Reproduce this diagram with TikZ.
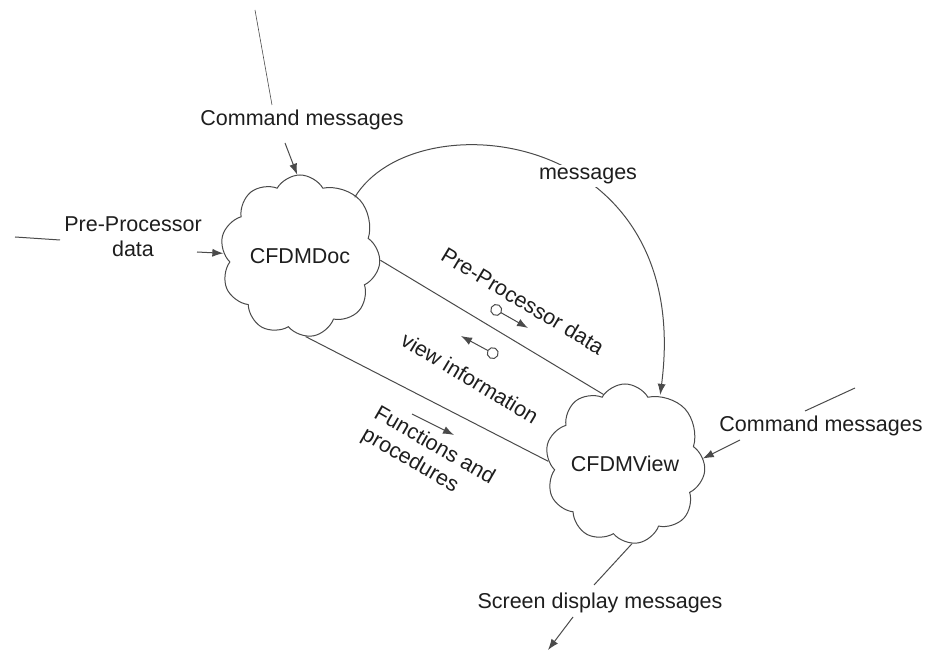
\documentclass[tikz,border=0pt]{standalone}
\usepackage{fontspec}
\setmainfont{Liberation Sans}
\usetikzlibrary{shapes.symbols,arrows.meta}

\pgfdeclarelayer{behind}
\pgfsetlayers{behind,main}

\definecolor{ink}{HTML}{1E1E1E}
\definecolor{wire}{HTML}{4A4A4A}

\tikzset{
  lbl/.style={text=ink, font=\fontsize{21.5}{25}\selectfont, inner sep=1pt},
  blob/.style={cloud, draw=wire, fill=white, line width=1pt, cloud puffs=9.5,
    cloud puff arc=120, aspect=1, text=ink,
    font=\fontsize{21.5}{25}\selectfont, inner sep=0pt},
  wireline/.style={draw=wire, line width=1pt},
  flow/.style={wireline, -{Latex[length=11pt,width=8pt]}},
  tagged/.style={wireline, {Circle[open,length=12pt,width=12pt,fill=white]}-{Latex[length=11pt,width=8pt]}},
}

\begin{document}
\begin{tikzpicture}[x=1pt,y=-1pt]
\useasboundingbox (0,0) rectangle (929,652);

% the two classes
\node[blob, inner xsep=-6pt, minimum width=160pt, minimum height=162pt] (doc) at (300,256) {CFDMDoc};
\node[blob, inner xsep=-16pt, minimum width=160pt, minimum height=160pt] (view) at (625,464) {CFDMView};

% incoming command messages to the document
\coordinate (cmdtop) at (255,10);
\coordinate (cmdmid) at (272,105);
\node[lbl] (cmdA) at (302,120) {Command messages};
\draw[wireline, line width=0.6pt] (cmdtop) -- (cmdmid);
\coordinate (cmdAfrom) at (285,143);
\draw[flow] (cmdAfrom) -- (doc.92);

% pre-processor data entering the document
\coordinate (ppl) at (15,237);
\coordinate (ppr) at (60,240);
\draw[wireline] (ppl) -- (ppr);
\node[lbl, align=center] (pp) at (133,237) {Pre-Processor\\data};
\coordinate (ppfrom) at (197,252);
\draw[flow] (ppfrom) -- (doc.178);

% messages from the document to the view
\draw[flow] (doc.47) .. controls (415,98) and (695,128) .. (view.63);
\node[lbl, fill=white, inner sep=3pt] (msg) at (588,176) {messages};

% links between document and view (the upper one runs into a notch of the view cloud)
\coordinate (vnotch) at (631,411);
\begin{pgfonlayer}{behind}
\draw[wireline] (doc.-3) -- (vnotch);
\end{pgfonlayer}
\draw[wireline] (doc.-86) -- (view.178);

\node[lbl, rotate=-31] (ppd) at (523,301) {Pre-Processor data};
\draw[tagged] (491,307) -- (528,328);

\node[lbl, rotate=-31] (vinfo) at (470,378) {view information};
\draw[tagged] (498,356) -- (461,336);

\node[lbl, rotate=-30, align=left] (fp) at (428,457) {Functions and\\procedures};
\draw[flow] (412,414) -- (454,435);

% command messages to the view
\coordinate (cvA) at (805,411);
\coordinate (cvB) at (855,388);
\draw[wireline] (cvA) -- (cvB);
\node[lbl] (cmdB) at (821,426) {Command messages};
\coordinate (cvfrom) at (740,440);
\draw[flow] (cvfrom) -- (view.4);

% screen output
\coordinate (scr) at (594,585);
\draw[wireline] (view.-85) -- (scr);
\node[lbl] (sdm) at (600,603) {Screen display messages};
\coordinate (sfrom) at (573,617);
\coordinate (sto) at (548,650);
\draw[flow] (sfrom) -- (sto);
\end{tikzpicture}
\end{document}
